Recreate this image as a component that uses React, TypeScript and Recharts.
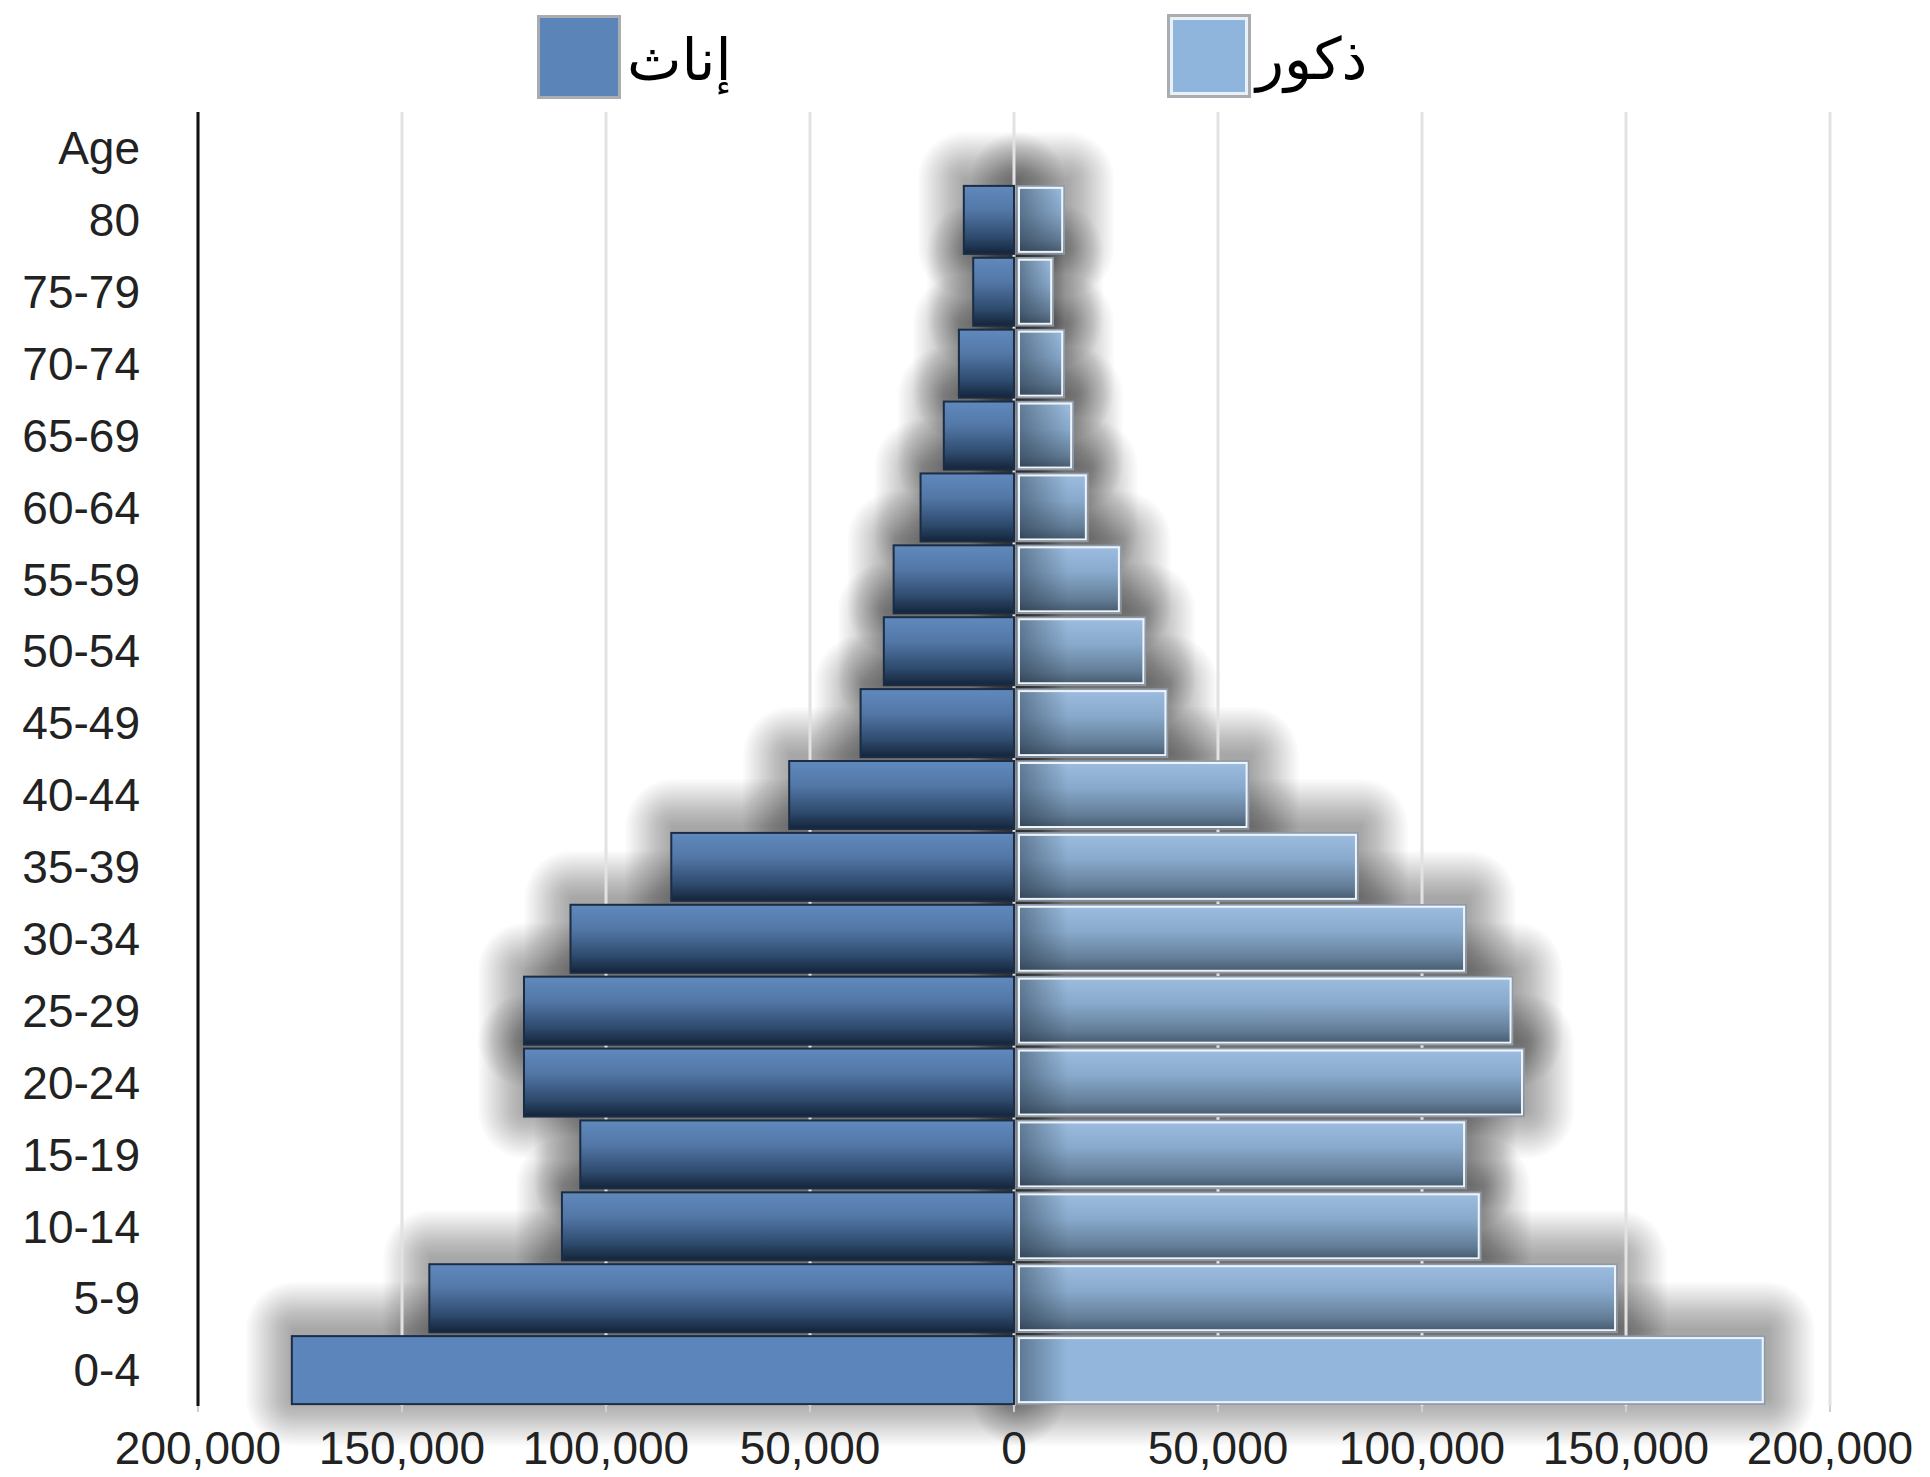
import React from "react";
import { BarChart, Bar, XAxis, YAxis, CartesianGrid } from "recharts";

// age groups, top to bottom as drawn
const ageGroups = [
  "80", "75-79", "70-74", "65-69", "60-64", "55-59", "50-54", "45-49",
  "40-44", "35-39", "30-34", "25-29", "20-24", "15-19", "10-14", "5-9", "0-4",
];

// إناث (females) - drawn to the left
const femaleValues = [
  12300, 10000, 13500, 17200, 22900, 29500, 31900, 37600,
  55100, 84000, 108700, 120100, 120100, 106300, 110800, 143300, 177000,
];

// ذكور (males) - drawn to the right
const maleValues = [
  12300, 9600, 12300, 14500, 18100, 26200, 32200, 37600,
  57500, 84300, 110800, 122200, 125000, 110800, 114400, 147800, 184000,
];

const xTicks = [-200000, -150000, -100000, -50000, 0, 50000, 100000, 150000, 200000];

const FEMALE_LABEL = "إناث";
const MALE_LABEL = "ذكور";

// "Age" sits as the first category row with no bars
const rows = [
  { age: "Age", female: null, male: null },
  ...ageGroups.map((age, i) => ({
    age,
    female: -femaleValues[i],
    male: maleValues[i],
  })),
];

const FONT = '"Liberation Sans", Arial, sans-serif';
const W = 1930;
const H = 1477;
const MARGIN = { top: 112, right: 100, bottom: 0, left: 0 };
const Y_AXIS_W = 198;
const X_AXIS_H = 71;

function barBox(props: any, side: string) {
  const { x, y, width, height } = props;
  let x0 = Math.min(x, x + width);
  let w = Math.abs(width);
  if (side === "male") {
    x0 += 3;
    w -= 3;
  }
  return { x0, y, w, h: height };
}

// soft dark halo made of stacked translucent rounded rects
function ShadowBar(props: any) {
  if (!props.width || !props.height) return null;
  const { x0, y, w, h } = barBox(props, props.side);
  const layers = [];
  for (let i = 1; i <= 24; i++) {
    const d = i * 2;
    layers.push(
      <rect
        key={i}
        x={x0 - d + 2}
        y={y - d - 6}
        width={w + 2 * d}
        height={h + 2 * d}
        rx={d}
        ry={d}
        fill="#000"
        fillOpacity={0.017}
      />
    );
  }
  return <g>{layers}</g>;
}

function PyramidBar(props: any) {
  const { index, side } = props;
  if (!props.width || !props.height) return null;
  const isMale = side === "male";
  const { x0, y, w, h } = barBox(props, side);
  const flat = index === rows.length - 1;
  const fill = flat
    ? isMale
      ? "#93b7dc"
      : "#5b85bb"
    : `url(#${side}Grad)`;

  if (!isMale) {
    return (
      <rect
        x={x0}
        y={y}
        width={w}
        height={h}
        fill={fill}
        stroke="#1b2d44"
        strokeWidth={2}
      />
    );
  }
  return (
    <g>
      <rect x={x0} y={y} width={w} height={h} fill={fill} stroke="#8f9aa6" strokeWidth={1.5} />
      <rect
        x={x0 + 1}
        y={y + 1}
        width={Math.min(50, w - 2)}
        height={h - 2}
        fill="url(#zeroShade)"
      />
      <rect
        x={x0 + 2}
        y={y + 2}
        width={w - 4}
        height={h - 4}
        fill="none"
        stroke="#eef4fa"
        strokeWidth={2}
      />
    </g>
  );
}

function LegendBox({ left, top, color, light }: any) {
  return (
    <div
      style={{
        position: "absolute",
        left,
        top,
        width: 84,
        height: 84,
        boxSizing: "border-box",
        background: color,
        border: "3px solid #a9adb2",
        boxShadow: light ? "inset 0 0 0 3px #e8f0f8" : "none",
      }}
    />
  );
}

function LegendText({ left, top, text }: any) {
  return (
    <div
      style={{
        position: "absolute",
        left,
        top,
        fontFamily: '"DejaVu Sans", sans-serif',
        fontSize: 58,
        lineHeight: "84px",
        color: "#000",
      }}
    >
      {text}
    </div>
  );
}

const layerStyle: React.CSSProperties = { position: "absolute", left: 0, top: 0 };

export default function App() {
  return (
    <div
      style={{
        position: "absolute",
        left: 0,
        top: 0,
        width: W,
        height: H,
        background: "#fff",
        overflow: "hidden",
      }}
    >
      <LegendBox left={537} top={15} color="#5b84b8" />
      <LegendText left={627} top={18} text={FEMALE_LABEL} />
      <LegendBox left={1167} top={14} color="#8fb5dc" light />
      <LegendText left={1256} top={17} text={MALE_LABEL} />

      {/* shadow layer, same scales as the main chart */}
      <div style={layerStyle}>
        <BarChart
          width={W}
          height={H}
          data={rows}
          layout="vertical"
          stackOffset="sign"
          barSize={68}
          margin={{
            top: MARGIN.top,
            right: MARGIN.right,
            bottom: X_AXIS_H,
            left: Y_AXIS_W,
          }}
        >
          <XAxis type="number" domain={[-200000, 200000]} ticks={xTicks} hide />
          <YAxis type="category" dataKey="age" hide />
          <Bar
            dataKey="male"
            stackId="pop"
            isAnimationActive={false}
            shape={(p: any) => <ShadowBar {...p} side="male" />}
          />
          <Bar
            dataKey="female"
            stackId="pop"
            isAnimationActive={false}
            shape={(p: any) => <ShadowBar {...p} side="female" />}
          />
        </BarChart>
      </div>

      <div style={layerStyle}>
        <BarChart
          width={W}
          height={H}
          data={rows}
          layout="vertical"
          stackOffset="sign"
          barSize={68}
          margin={MARGIN}
        >
          <defs>
            <linearGradient id="femaleGrad" x1="0" y1="0" x2="0" y2="1">
              <stop offset="0%" stopColor="#6089bd" />
              <stop offset="35%" stopColor="#5378a8" />
              <stop offset="75%" stopColor="#2f4b6e" />
              <stop offset="100%" stopColor="#132439" />
            </linearGradient>
            <linearGradient id="maleGrad" x1="0" y1="0" x2="0" y2="1">
              <stop offset="0%" stopColor="#9dbee0" />
              <stop offset="40%" stopColor="#88a9cb" />
              <stop offset="80%" stopColor="#627c96" />
              <stop offset="100%" stopColor="#435669" />
            </linearGradient>
            <linearGradient id="zeroShade" x1="0" y1="0" x2="1" y2="0">
              <stop offset="0%" stopColor="#1a2a3a" stopOpacity={0.45} />
              <stop offset="100%" stopColor="#1a2a3a" stopOpacity={0} />
            </linearGradient>
          </defs>
          <CartesianGrid horizontal={false} stroke="#e2e2e2" strokeWidth={3} />
          <XAxis
            type="number"
            domain={[-200000, 200000]}
            ticks={xTicks}
            axisLine={false}
            tickLine={{ stroke: "#cfcfcf", strokeWidth: 2 }}
            tickSize={6}
            tickMargin={19}
            height={X_AXIS_H}
            tick={{ fill: "#222", fontSize: 46, fontFamily: FONT }}
            tickFormatter={(v: number) => Math.abs(v).toLocaleString("en-US")}
          />
          <YAxis
            type="category"
            dataKey="age"
            width={Y_AXIS_W}
            interval={0}
            axisLine={{ stroke: "#111", strokeWidth: 3 }}
            tickLine={false}
            tickSize={0}
            tickMargin={58}
            tick={{ fill: "#222", fontSize: 46, fontFamily: FONT }}
          />
          <Bar
            dataKey="male"
            name={MALE_LABEL}
            stackId="pop"
            isAnimationActive={false}
            shape={(p: any) => <PyramidBar {...p} side="male" />}
          />
          <Bar
            dataKey="female"
            name={FEMALE_LABEL}
            stackId="pop"
            isAnimationActive={false}
            shape={(p: any) => <PyramidBar {...p} side="female" />}
          />
        </BarChart>
      </div>
    </div>
  );
}
